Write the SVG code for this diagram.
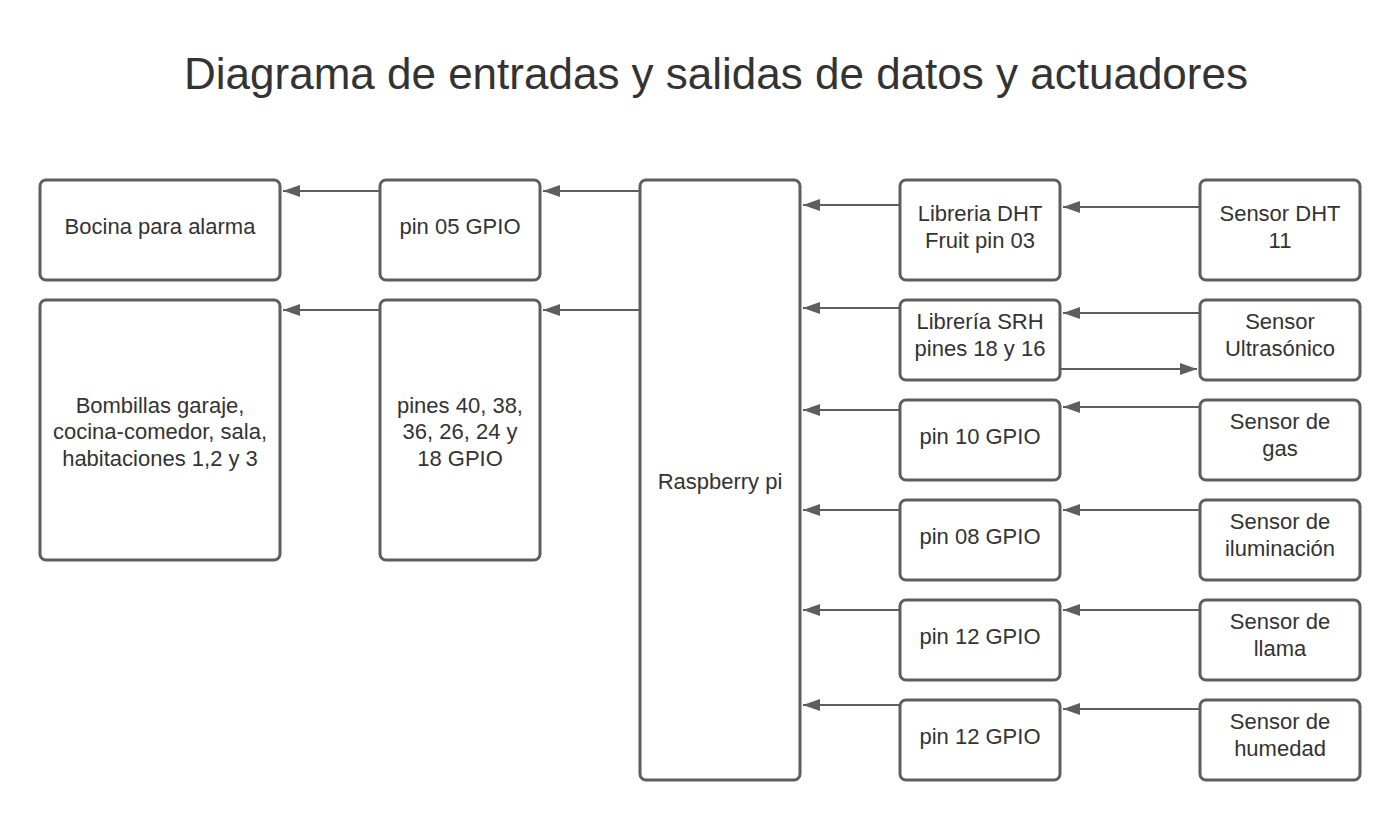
<svg xmlns="http://www.w3.org/2000/svg" width="1400" height="820" viewBox="0 0 1400 820">
<style>
.box{fill:#fff;stroke:#5e5e5e;stroke-width:3}
.t{font-family:"Liberation Sans",Arial,sans-serif;font-size:22px;fill:#333;text-anchor:middle}
.title{font-family:"Liberation Sans",Arial,sans-serif;font-size:44px;fill:#333;text-anchor:middle}
.c{stroke:#5e5e5e;stroke-width:2;fill:none;marker-end:url(#ah)}
</style>
<defs>
<marker id="ah" markerUnits="userSpaceOnUse" markerWidth="18" markerHeight="14" viewBox="0 0 18 14" refX="17" refY="7" orient="auto">
<path d="M0,1 L17,7 L0,13 z" fill="#5e5e5e"/>
</marker>
</defs>
<rect width="1400" height="820" fill="#fff"/>
<text class="title" x="716" y="89">Diagrama de entradas y salidas de datos y actuadores</text>
<g id="connectors">
<path class="c" d="M640,191 H543"/>
<path class="c" d="M640,310 H543"/>
<path class="c" d="M380,191 H283"/>
<path class="c" d="M380,310 H283"/>
<path class="c" d="M900,205 H803"/>
<path class="c" d="M900,308 H803"/>
<path class="c" d="M900,410 H803"/>
<path class="c" d="M900,510 H803"/>
<path class="c" d="M900,610 H803"/>
<path class="c" d="M900,705 H803"/>
<path class="c" d="M1200,207 H1063"/>
<path class="c" d="M1200,313 H1063"/>
<path class="c" d="M1060,369 H1197"/>
<path class="c" d="M1200,407 H1063"/>
<path class="c" d="M1200,510 H1063"/>
<path class="c" d="M1200,610 H1063"/>
<path class="c" d="M1200,709 H1063"/>
</g>
<g id="bocina"><rect class="box" x="40" y="180" width="240" height="100" rx="6"/><text class="t" x="160" y="234">Bocina para alarma</text></g>
<g id="pin05"><rect class="box" x="380" y="180" width="160" height="100" rx="6"/><text class="t" x="460" y="234">pin 05 GPIO</text></g>
<g id="bombillas"><rect class="box" x="40" y="300" width="240" height="260" rx="6"/><text class="t" x="160" y="413">Bombillas garaje,</text><text class="t" x="160" y="439">cocina-comedor, sala,</text><text class="t" x="160" y="466">habitaciones 1,2 y 3</text></g>
<g id="pines"><rect class="box" x="380" y="300" width="160" height="260" rx="6"/><text class="t" x="460" y="413">pines 40, 38,</text><text class="t" x="460" y="439">36, 26, 24 y</text><text class="t" x="460" y="466">18 GPIO</text></g>
<g id="raspberry"><rect class="box" x="640" y="180" width="160" height="600" rx="6"/><text class="t" x="720" y="489">Raspberry pi</text></g>
<g id="libdht"><rect class="box" x="900" y="180" width="160" height="100" rx="6"/><text class="t" x="980" y="221">Libreria DHT</text><text class="t" x="980" y="248">Fruit pin 03</text></g>
<g id="libsrh"><rect class="box" x="900" y="300" width="160" height="80" rx="6"/><text class="t" x="980" y="329">Librería SRH</text><text class="t" x="980" y="356">pines 18 y 16</text></g>
<g id="pin10"><rect class="box" x="900" y="400" width="160" height="80" rx="6"/><text class="t" x="980" y="444">pin 10 GPIO</text></g>
<g id="pin08"><rect class="box" x="900" y="500" width="160" height="80" rx="6"/><text class="t" x="980" y="544">pin 08 GPIO</text></g>
<g id="pin12a"><rect class="box" x="900" y="600" width="160" height="80" rx="6"/><text class="t" x="980" y="644">pin 12 GPIO</text></g>
<g id="pin12b"><rect class="box" x="900" y="700" width="160" height="80" rx="6"/><text class="t" x="980" y="744">pin 12 GPIO</text></g>
<g id="sdht"><rect class="box" x="1200" y="180" width="160" height="100" rx="6"/><text class="t" x="1280" y="221">Sensor DHT</text><text class="t" x="1280" y="248">11</text></g>
<g id="sultra"><rect class="box" x="1200" y="300" width="160" height="80" rx="6"/><text class="t" x="1280" y="329">Sensor</text><text class="t" x="1280" y="356">Ultrasónico</text></g>
<g id="sgas"><rect class="box" x="1200" y="400" width="160" height="80" rx="6"/><text class="t" x="1280" y="429">Sensor de</text><text class="t" x="1280" y="456">gas</text></g>
<g id="silum"><rect class="box" x="1200" y="500" width="160" height="80" rx="6"/><text class="t" x="1280" y="529">Sensor de</text><text class="t" x="1280" y="556">iluminación</text></g>
<g id="sllama"><rect class="box" x="1200" y="600" width="160" height="80" rx="6"/><text class="t" x="1280" y="629">Sensor de</text><text class="t" x="1280" y="656">llama</text></g>
<g id="shum"><rect class="box" x="1200" y="700" width="160" height="80" rx="6"/><text class="t" x="1280" y="729">Sensor de</text><text class="t" x="1280" y="756">humedad</text></g>
</svg>
